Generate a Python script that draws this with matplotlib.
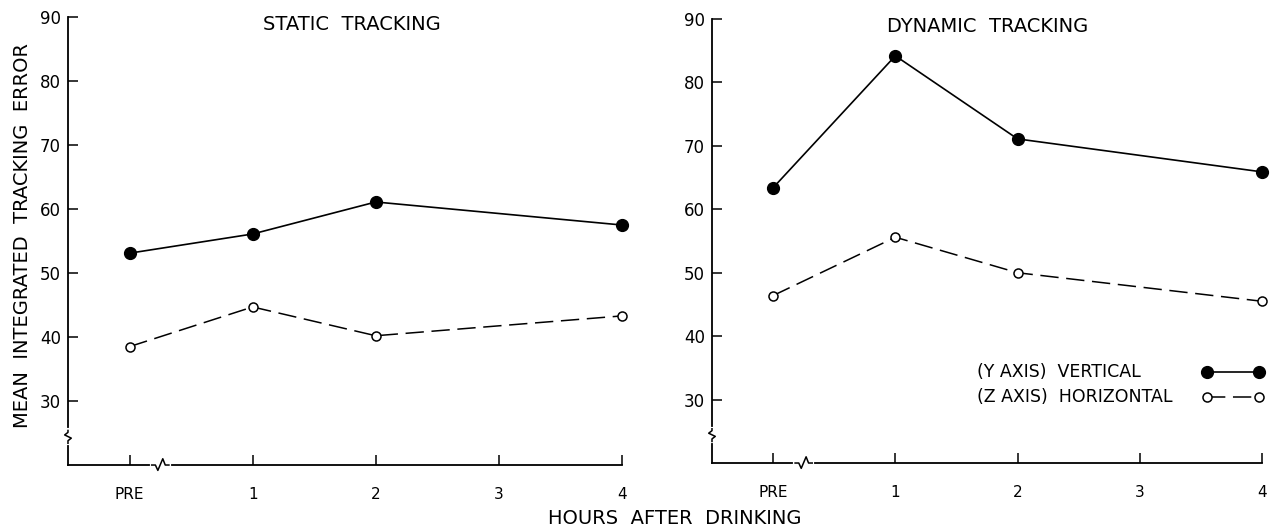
"""Static vs dynamic tracking error before and after drinking, two panels."""

import matplotlib.pyplot as plt
import matplotlib.transforms as mtransforms

plt.rcParams["font.family"] = ["DejaVu Sans"]

HOURS = [0, 1, 2, 4]
TICK_POS = [0, 1, 2, 3, 4]
TICK_LABELS = ["PRE", "1", "2", "3", "4"]
Y_TICKS = [30, 40, 50, 60, 70, 80, 90]

STATIC_VERTICAL = [53.1, 56.1, 61.1, 57.5]
STATIC_HORIZONTAL = [38.5, 44.7, 40.2, 43.3]
DYNAMIC_VERTICAL = [63.4, 84.2, 71.1, 65.9]
DYNAMIC_HORIZONTAL = [46.4, 55.6, 50.0, 45.5]

LEGEND_LABELS = ["(Y AXIS)  VERTICAL", "(Z AXIS)  HORIZONTAL"]

VERT_STYLE = dict(color="black", lw=1.2, marker="o", ms=8.5, mfc="black",
                  mec="black")
HORIZ_STYLE = dict(color="black", lw=1.1, ls=(0, (12, 5)), marker="o", ms=6.5,
                   mfc="white", mec="black", mew=1.1)


def zigzag_y(ax, yval):
    # break mark on the left spine
    tr = mtransforms.blended_transform_factory(ax.transAxes, ax.transData)
    ax.plot([0, 0], [yval - 1.0, yval + 1.0], color="white", lw=3,
            transform=tr, clip_on=False, zorder=5)
    ax.plot([0, 0, 0.006, -0.006, 0, 0],
            [yval - 1.0, yval - 0.6, yval - 0.2, yval + 0.3, yval + 0.7, yval + 1.0],
            color="black", lw=1.1, transform=tr, clip_on=False, zorder=6)


def zigzag_x(ax, xval):
    tr = mtransforms.blended_transform_factory(ax.transData, ax.transAxes)
    ax.plot([xval - 0.07, xval + 0.07], [0, 0], color="white", lw=3,
            transform=tr, clip_on=False, zorder=5)
    ax.plot([xval - 0.07, xval - 0.04, xval - 0.02, xval + 0.02, xval + 0.04, xval + 0.07],
            [0, 0, -0.012, 0.014, 0, 0],
            color="black", lw=1.1, transform=tr, clip_on=False, zorder=6)


def panel(ax, title, title_x, vert, horiz):
    ax.plot(HOURS, vert, clip_on=False, zorder=4, **VERT_STYLE)
    ax.plot(HOURS, horiz, clip_on=False, zorder=4, **HORIZ_STYLE)
    ax.set_xlim(-0.5, 4)
    ax.set_ylim(20, 90)
    ax.spines["top"].set_visible(False)
    ax.spines["right"].set_visible(False)
    ax.spines["left"].set_linewidth(1.3)
    ax.spines["bottom"].set_linewidth(1.3)
    ax.set_xticks(TICK_POS)
    ax.set_xticklabels(TICK_LABELS, fontsize=11)
    ax.set_yticks(Y_TICKS)
    ax.set_yticklabels([str(v) for v in Y_TICKS], fontsize=12)
    ax.tick_params(axis="x", direction="in", length=7, width=1.1, pad=16)
    ax.tick_params(axis="y", direction="in", length=7, width=1.1, pad=5)
    ax.text(title_x, 0.984, title, transform=ax.transAxes, ha="center",
            va="center", fontsize=14)
    zigzag_y(ax, 24.4)
    zigzag_x(ax, 0.25)


fig = plt.figure(figsize=(12.73, 5.27), dpi=100)
ax1 = fig.add_axes([0.0534, 0.1176, 0.4352, 0.8501])
ax2 = fig.add_axes([0.5593, 0.1214, 0.4321, 0.8425])

panel(ax1, "STATIC  TRACKING", 0.513, STATIC_VERTICAL, STATIC_HORIZONTAL)
panel(ax2, "DYNAMIC  TRACKING", 0.502, DYNAMIC_VERTICAL, DYNAMIC_HORIZONTAL)

# key: labels left aligned, samples on the right
for row, (label, style) in enumerate(zip(LEGEND_LABELS, [VERT_STYLE, HORIZ_STYLE])):
    ky = 0.205 - row * 0.056
    ax2.text(0.482, ky, label, transform=ax2.transAxes, ha="left",
             va="center", fontsize=12.5)
    ax2.plot([0.900, 0.994], [ky, ky], transform=ax2.transAxes,
             clip_on=False, **style)

fig.text(0.018, 0.554, "MEAN  INTEGRATED  TRACKING  ERROR", rotation=90,
         ha="center", va="center", fontsize=14)
fig.text(0.530, 0.017, "HOURS  AFTER  DRINKING", ha="center", va="center",
         fontsize=14)

fig.savefig("out.png", dpi=100)
